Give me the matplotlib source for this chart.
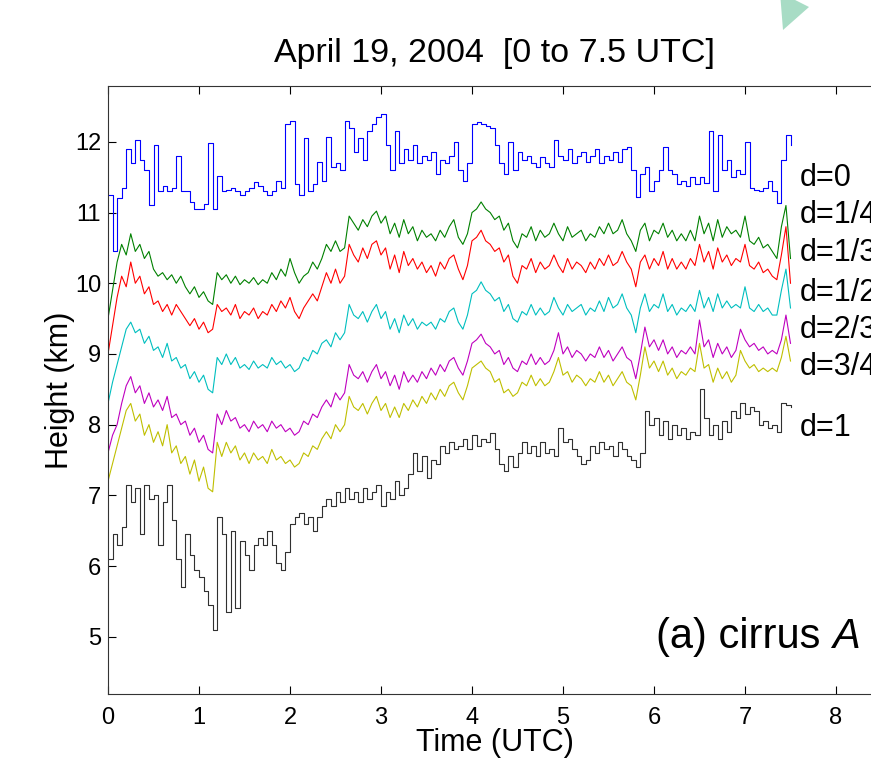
import matplotlib
matplotlib.use('Agg')

import matplotlib.pyplot as plt
import numpy as np
from matplotlib.patches import Polygon

plt.rcParams['font.family'] = ['Liberation Sans', 'DejaVu Sans']

# cloud-layer heights (km) every 0.05 h from 0 to 7.5 UTC, one row = half an hour
h_d0 = [
    11.25, 10.45, 11.2, 11.35, 11.9, 11.7, 12.02, 11.75, 11.6, 11.1,
    11.95, 11.3, 11.38, 11.3, 11.35, 11.8, 11.3, 11.3, 11.15, 11.05,
    11.05, 11.12, 11.98, 11.05, 11.52, 11.3, 11.32, 11.35, 11.3, 11.25,
    11.3, 11.35, 11.43, 11.38, 11.3, 11.25, 11.3, 11.45, 11.35, 12.25,
    12.3, 11.4, 11.25, 12.05, 11.3, 11.4, 11.72, 11.45, 12.07, 11.65,
    11.7, 11.6, 12.3, 12.2, 11.85, 12.05, 11.75, 12.15, 12.25, 12.35,
    12.4, 11.95, 11.6, 12.15, 11.7, 11.9, 11.75, 11.95, 11.7, 11.8,
    11.75, 11.85, 11.55, 11.75, 11.7, 11.8, 12.0, 11.6, 11.45, 11.7,
    12.25, 12.28, 12.25, 12.22, 12.2, 11.95, 11.7, 11.55, 12.0, 11.6,
    11.85, 11.75, 11.8, 11.7, 11.65, 11.78, 11.7, 11.65, 12.03, 11.8,
    11.75, 11.9, 11.7, 11.8, 11.85, 11.72, 11.8, 11.9, 11.7, 11.8,
    11.75, 11.85, 11.72, 11.9, 11.93, 11.6, 11.22, 11.55, 11.65, 11.3,
    11.45, 11.6, 11.93, 11.6, 11.55, 11.4, 11.45, 11.38, 11.5, 11.4,
    11.5, 11.42, 12.15, 11.3, 12.1, 11.6, 11.75, 11.5, 11.6, 11.55,
    12.0, 11.35, 11.32, 11.3, 11.35, 11.45, 11.3, 11.14, 11.75, 12.1,
    11.95,
]
h_d14 = [
    9.5, 9.9, 10.3, 10.55, 10.4, 10.7, 10.45, 10.55, 10.35, 10.45,
    10.2, 10.1, 10.15, 10.05, 10.12, 10.0, 10.1, 9.95, 9.85, 9.95,
    9.8, 9.88, 9.75, 9.7, 10.15, 10.05, 10.12, 10.0, 10.1, 9.98,
    10.05, 10.0, 10.08, 9.98, 10.05, 10.0, 10.15, 10.05, 10.2, 10.1,
    10.35, 10.15, 10.0, 10.1, 10.15, 10.3, 10.2, 10.35, 10.55, 10.45,
    10.6, 10.45, 10.5, 10.95, 10.85, 10.75, 10.9, 10.8, 10.95, 11.02,
    10.85, 10.95, 10.7, 10.85, 10.65, 10.9, 10.7, 10.8, 10.6, 10.75,
    10.65, 10.7, 10.6, 10.75, 10.65, 10.8, 10.9, 10.65, 10.55, 10.7,
    11.0, 11.05, 11.15, 11.05, 11.0, 10.9, 10.95, 10.75, 10.85, 10.6,
    10.5, 10.7, 10.65, 10.8, 10.6, 10.75, 10.65, 10.7, 10.85, 10.7,
    10.6, 10.8, 10.65, 10.7, 10.75, 10.6, 10.7, 10.65, 10.8, 10.7,
    10.85, 10.7, 10.75, 10.9, 10.7, 10.6, 10.45, 10.75, 10.85, 10.6,
    10.75, 10.7, 10.85, 10.65, 10.75, 10.6, 10.7, 10.6, 10.75, 10.6,
    10.95, 10.7, 10.85, 10.6, 10.9, 10.65, 10.8, 10.7, 10.75, 10.65,
    10.95, 10.6, 10.55, 10.65, 10.5, 10.55, 10.45, 10.35, 10.8, 11.1,
    10.35,
]
h_d13 = [
    9.0, 9.4, 9.8, 10.1, 9.95, 10.3, 10.0, 10.1, 9.85, 9.95,
    9.7, 9.75, 9.6, 9.7, 9.55, 9.7, 9.6, 9.5, 9.4, 9.5,
    9.35, 9.45, 9.3, 9.35, 9.7, 9.6, 9.65, 9.55, 9.7, 9.5,
    9.6, 9.55, 9.65, 9.5, 9.6, 9.55, 9.7, 9.6, 9.75, 9.65,
    9.8, 9.6, 9.5, 9.65, 9.75, 9.85, 9.75, 9.95, 10.15, 10.0,
    10.2, 10.0, 10.1, 10.55, 10.4, 10.3, 10.5, 10.35, 10.55, 10.6,
    10.4, 10.5, 10.2, 10.4, 10.15, 10.45, 10.25, 10.35, 10.2, 10.3,
    10.15, 10.25, 10.1, 10.3, 10.2, 10.35, 10.4, 10.2, 10.05, 10.25,
    10.6, 10.65, 10.75, 10.6, 10.55, 10.45, 10.5, 10.3, 10.4, 10.1,
    10.0, 10.25, 10.2, 10.35, 10.15, 10.3, 10.2, 10.25, 10.4, 10.25,
    10.15, 10.35, 10.2, 10.3, 10.25, 10.15, 10.3, 10.2, 10.35, 10.25,
    10.4, 10.25, 10.3, 10.45, 10.3, 10.2, 9.95, 10.3, 10.4, 10.2,
    10.35, 10.25, 10.45, 10.2, 10.35, 10.2, 10.3, 10.2, 10.35, 10.25,
    10.55, 10.3, 10.45, 10.2, 10.5, 10.3, 10.4, 10.25, 10.35, 10.3,
    10.55, 10.25, 10.2, 10.3, 10.15, 10.2, 10.1, 10.05, 10.4, 10.8,
    10.0,
]
h_d12 = [
    8.3, 8.6, 8.85, 9.1, 9.35, 9.45, 9.3, 9.35, 9.15, 9.25,
    9.05, 9.1, 8.95, 9.15, 8.9, 8.95, 8.8, 8.85, 8.65, 8.75,
    8.6, 8.7, 8.5, 8.45, 8.95, 8.85, 9.0, 8.85, 8.95, 8.8,
    8.85, 8.78, 8.9, 8.8, 8.85, 8.8, 8.95, 8.85, 8.9, 8.8,
    8.85, 8.75, 8.8, 8.95, 8.9, 9.05, 9.0, 9.15, 9.2, 9.1,
    9.3, 9.2, 9.3, 9.7, 9.55, 9.5, 9.6, 9.45, 9.6, 9.7,
    9.5, 9.6, 9.35, 9.5, 9.3, 9.55, 9.4, 9.5, 9.35, 9.45,
    9.4, 9.45, 9.35, 9.5, 9.45, 9.6, 9.65, 9.45, 9.35, 9.55,
    9.85, 9.9, 10.02, 9.9, 9.85, 9.75, 9.8, 9.6, 9.7, 9.5,
    9.45, 9.6, 9.55, 9.7, 9.55, 9.65, 9.55, 9.6, 9.8, 9.65,
    9.55, 9.7, 9.6, 9.65, 9.7, 9.55, 9.65, 9.6, 9.75, 9.6,
    9.8, 9.65, 9.7, 9.85, 9.65, 9.55, 9.3, 9.65, 9.85, 9.6,
    9.7, 9.65, 9.85, 9.6, 9.7, 9.55, 9.65, 9.6, 9.7, 9.6,
    9.9, 9.65, 9.8, 9.6, 9.85, 9.65, 9.75, 9.65, 9.7, 9.65,
    9.95, 9.65, 9.6, 9.7, 9.6, 9.65, 9.55, 9.55, 9.9, 10.2,
    9.65,
]
h_d23 = [
    7.6, 7.85, 8.0, 8.3, 8.55, 8.68, 8.45, 8.55, 8.3, 8.45,
    8.25, 8.35, 8.2, 8.4, 8.1, 8.15, 8.0, 8.05, 7.85, 7.95,
    7.75, 7.85, 7.65, 7.6, 8.15, 8.0, 8.2, 8.05, 8.1, 7.95,
    8.0, 7.9, 8.05, 7.95, 8.0, 7.9, 8.05, 7.95, 8.0, 7.9,
    7.95, 7.85, 7.9, 8.05, 8.0, 8.15, 8.1, 8.25, 8.35, 8.25,
    8.45, 8.35, 8.45, 8.85, 8.7, 8.65, 8.75, 8.6, 8.75, 8.85,
    8.65, 8.75, 8.55, 8.7, 8.5, 8.75, 8.6, 8.7, 8.6, 8.75,
    8.65, 8.8, 8.7, 8.85, 8.75, 8.9, 8.95, 8.8, 8.7, 8.9,
    9.15, 9.2, 9.28, 9.15, 9.1, 9.0, 9.05, 8.85, 8.95, 8.8,
    8.75, 8.9, 8.85, 9.0, 8.85, 8.95, 8.85, 8.9, 9.05, 9.3,
    9.0, 9.1, 8.95, 9.05, 9.0, 8.9, 9.0, 8.95, 9.1, 8.95,
    9.05, 8.9, 9.0, 9.1, 8.95, 8.9, 8.65, 9.0, 9.38, 9.1,
    9.2, 9.05, 9.2, 9.0, 9.1, 8.95, 9.05, 9.0, 9.1, 9.0,
    9.48, 9.1, 9.2, 8.95, 9.15, 9.0, 9.1, 8.95, 9.05, 9.35,
    9.2, 9.1, 9.15, 9.05, 9.1, 9.0, 9.05, 9.0, 9.2, 9.55,
    9.15,
]
h_d34 = [
    7.2, 7.45, 7.7, 7.95, 8.2, 8.3, 8.05, 8.15, 7.85, 8.0,
    7.75, 7.9, 7.7, 8.0, 7.6, 7.7, 7.45, 7.55, 7.3, 7.5,
    7.2, 7.4, 7.1, 7.05, 7.75, 7.55, 7.75, 7.6, 7.7, 7.5,
    7.6, 7.45, 7.6, 7.5, 7.55, 7.45, 7.65, 7.5, 7.55, 7.45,
    7.5, 7.4, 7.45, 7.6, 7.55, 7.7, 7.65, 7.8, 7.9, 7.8,
    8.0, 7.9, 8.0, 8.4, 8.25, 8.2, 8.3, 8.15, 8.3, 8.4,
    8.2, 8.3, 8.1, 8.25, 8.1, 8.3, 8.2, 8.35, 8.25, 8.4,
    8.3, 8.45, 8.35, 8.5, 8.4, 8.55, 8.6, 8.45, 8.35, 8.55,
    8.8, 8.85, 8.9, 8.8, 8.75, 8.6, 8.65, 8.45, 8.5, 8.4,
    8.45, 8.6, 8.55, 8.7, 8.55, 8.65, 8.55, 8.6, 8.75, 8.95,
    8.7, 8.75, 8.6, 8.7, 8.65, 8.55, 8.65, 8.6, 8.75, 8.6,
    8.7, 8.55, 8.65, 8.75, 8.6, 8.55, 8.35, 8.7, 9.1, 8.8,
    8.9, 8.75, 8.9, 8.7, 8.8, 8.65, 8.75, 8.7, 8.8, 8.75,
    9.15, 8.8, 8.85, 8.6, 8.8, 8.65, 8.75, 8.6, 8.7, 9.05,
    8.9, 8.8, 8.85, 8.75, 8.8, 8.75, 8.8, 8.75, 8.95, 9.25,
    8.9,
]
h_d1 = [
    6.1, 6.45, 6.3, 6.55, 7.15, 6.9, 7.1, 6.45, 7.15, 6.95,
    7.0, 6.3, 6.9, 7.15, 6.65, 6.1, 5.7, 6.45, 6.15, 5.95,
    5.85, 5.65, 5.45, 5.1, 6.7, 6.45, 5.35, 6.5, 5.4, 6.35,
    6.15, 5.95, 6.3, 6.4, 6.3, 6.5, 6.3, 6.05, 5.95, 6.2,
    6.6, 6.7, 6.75, 6.6, 6.7, 6.5, 6.7, 6.85, 6.95, 6.85,
    7.05, 6.9, 7.1, 6.95, 7.05, 6.9, 7.1, 6.95, 7.05, 7.15,
    6.85, 7.05, 6.95, 7.2, 7.0, 7.1, 7.3, 7.6, 7.35, 7.55,
    7.25, 7.5, 7.45, 7.7, 7.6, 7.75, 7.65, 7.7, 7.8, 7.65,
    7.85, 7.7, 7.8, 7.75, 7.88, 7.65, 7.45, 7.35, 7.55, 7.4,
    7.6, 7.75, 7.6, 7.7, 7.55, 7.75, 7.6, 7.65, 7.55, 7.95,
    7.75, 7.8, 7.65, 7.55, 7.45, 7.5, 7.7, 7.6, 7.75, 7.65,
    7.7, 7.55, 7.75, 7.65, 7.55, 7.5, 7.4, 7.6, 8.2, 8.0,
    8.1, 7.85, 8.05, 7.8, 8.0, 7.85, 7.95, 7.8, 7.9, 7.85,
    8.5, 8.1, 7.85, 8.0, 7.8, 8.05, 7.9, 8.2, 8.1, 8.3,
    8.15, 8.25, 8.2, 8.0, 8.05, 7.95, 8.0, 7.9, 8.3, 8.28,
    8.25,
]

series = [h_d0, h_d14, h_d13, h_d12, h_d23, h_d34, h_d1]
colors = ['#0000ff', '#008000', '#ff0000', '#00bfbf', '#bf00bf', '#bfbf00', '#303030']
labels = ['d=0', 'd=1/4', 'd=1/3', 'd=1/2', 'd=2/3', 'd=3/4', 'd=1']
label_y = [11.49, 10.97, 10.43, 9.86, 9.34, 8.82, 7.95]

t = np.linspace(0, 7.5, len(h_d0))

fig = plt.figure(figsize=(8.71, 7.62), dpi=100)
ax = fig.add_axes([108 / 871, 68 / 762, 773.5 / 871, 608 / 762])

for h, c in zip(series, colors):
    if c in ('#0000ff', '#303030'):
        ax.plot(t, h, color=c, lw=0.8, drawstyle='steps-post')
    else:
        ax.plot(t, h, color=c, lw=0.8)

for lab, y in zip(labels, label_y):
    ax.text(7.6, y, lab, fontsize=22, va='center', ha='left', clip_on=False)

# panel tag, with the cloud name in italics
ax.text(7.96, 5.0, '(a) cirrus ', fontsize=30, ha='right', va='center')
ax.text(7.96, 5.0, 'A', fontsize=30, ha='left', va='center', style='italic')

ax.set_xlim(0, 8.5)
ax.set_ylim(4.19, 12.79)
ax.set_xticks(range(0, 9))
ax.set_yticks(range(5, 13))
ax.tick_params(direction='in', top=True, right=True, length=6, width=0.8,
               labelsize=17)
ax.tick_params(axis='x', pad=9)
ax.tick_params(axis='y', pad=5)
for s in ax.spines.values():
    s.set_linewidth(0.8)
    s.set_color('#333333')

ax.set_xlabel('Time (UTC)', fontsize=22, labelpad=0)
ax.set_ylabel('Height (km)', fontsize=22, labelpad=0)
ax.set_title('April 19, 2004  [0 to 7.5 UTC]', fontsize=24.5, pad=17)

# small decorative marker at the top edge of the page
tri = Polygon([(780 / 871, 1.01), (809 / 871, 1 - 7 / 762), (783 / 871, 1 - 30 / 762)],
              closed=True, transform=fig.transFigure, facecolor='#a8dcc5',
              edgecolor='none')
fig.patches.append(tri)

fig.savefig('out.png', dpi=100)
